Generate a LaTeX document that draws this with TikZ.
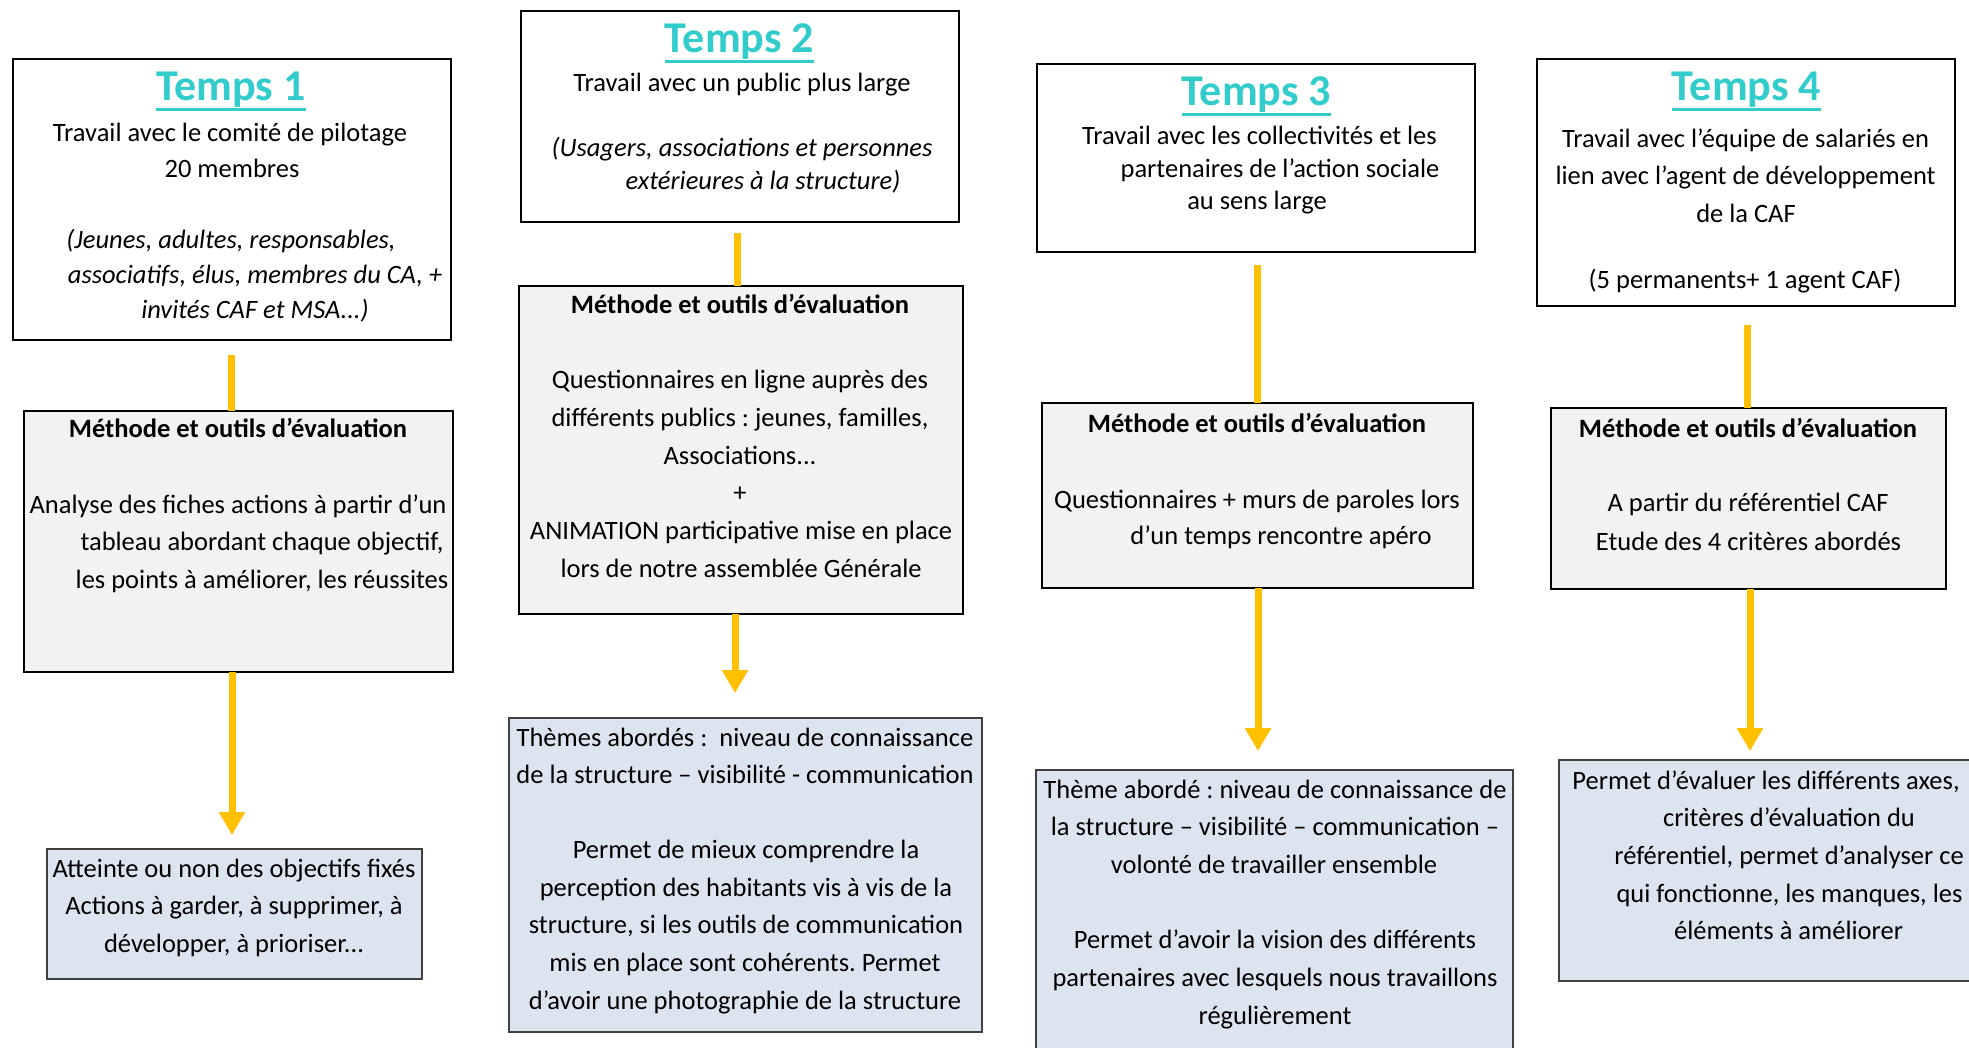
\documentclass[tikz,border=0pt]{standalone}
\usepackage{fontspec}
\setmainfont{Carlito}
\usetikzlibrary{arrows.meta}
\frenchspacing
\definecolor{teal1}{HTML}{33CCCC}
\definecolor{gold}{HTML}{FFC000}
\definecolor{mfill}{HTML}{F2F2F2}
\definecolor{rfill}{HTML}{DCE4F0}
\definecolor{rdraw}{HTML}{404040}
\newsavebox\tulbox
\newcommand\tul[1]{\sbox\tulbox{#1}\usebox\tulbox\llap{\raisebox{-0.235em}{\rule{\wd\tulbox}{0.07em}}}}
\newcommand\bx[6]{\node[#2,minimum width={(#5-#3)*0.5pt},minimum height={(#6-#4)*0.5pt}] (#1) at ({(#3+#5)/2},{(#4+#6)/2}) {};}
\begin{document}
\begin{tikzpicture}[x=0.5pt,y=-0.5pt,
  every node/.style={inner sep=0pt,outer sep=0pt},
  tbox/.style={draw=black,line width=1pt,fill=white},
  mbox/.style={draw=black,line width=1pt,fill=mfill},
  rbox/.style={draw=rdraw,line width=0.9pt,fill=rfill},
  txt/.style={anchor=mid,yshift=-2.5pt,font=\fontsize{13.25}{16}\selectfont},
  itx/.style={anchor=mid,yshift=-2.5pt,font=\fontsize{13.25}{16}\selectfont\itshape},
  btx/.style={anchor=mid,yshift=-2.5pt,font=\fontsize{13.25}{16}\selectfont\bfseries},
  ttl/.style={anchor=mid,yshift=-4pt,text=teal1,font=\fontsize{22}{25}\selectfont\bfseries},
  conn/.style={draw=gold,line width=3.5pt},
  arr/.style={conn,-{Triangle[width=12.5pt,length=11.5pt]}}]
\useasboundingbox (0,0) rectangle (1969,1048);
\clip (0,0) rectangle (1969,1048);
\fill[white] (0,0) rectangle (1969,1048);

% boxes
\bx{t1}{tbox}{13}{59}{451}{340}
\bx{m1}{mbox}{24}{411}{453}{672}
\bx{r1}{rbox}{47}{849}{422}{979}
\bx{t2}{tbox}{521}{11}{959}{222}
\bx{m2}{mbox}{519}{286}{963}{614}
\bx{r2}{rbox}{509}{718}{982}{1032}
\bx{t3}{tbox}{1037}{64}{1475}{252}
\bx{m3}{mbox}{1042}{403}{1473}{588}
\bx{r3}{rbox}{1036}{770}{1513}{1070}
\bx{t4}{tbox}{1537}{59}{1955}{306}
\bx{m4}{mbox}{1551}{408}{1946}{589}
\bx{r4}{rbox}{1559}{760}{1985}{981}

% connector x positions
\coordinate (k1) at (231,0);
\coordinate (k2) at (737,0);
\coordinate (k3) at (1257,0);
\coordinate (k4) at (1747,0);
\coordinate (a1) at (232,0);
\coordinate (a2) at (735,0);
\coordinate (a3) at (1258,0);
\coordinate (a4) at (1750,0);

\draw[conn,shorten <=7.5pt] (t1.south -| k1) -- (m1.north -| k1);
\draw[conn,shorten <=5.5pt] (t2.south -| k2) -- (m2.north -| k2);
\draw[conn,shorten <=6.5pt] (t3.south -| k3) -- (m3.north -| k3);
\draw[conn,shorten <=9.5pt] (t4.south -| k4) -- (m4.north -| k4);
\draw[arr,shorten >=7pt] (m1.south -| a1) -- (r1.north -| a1);
\draw[arr,shorten >=12.5pt] (m2.south -| a2) -- (r2.north -| a2);
\draw[arr,shorten >=9.5pt] (m3.south -| a3) -- (r3.north -| a3);
\draw[arr,shorten >=4.5pt] (m4.south -| a4) -- (r4.north -| a4);

% column 1
\node[ttl] (t1h) at (231,88) {\tul{Temps 1}};
\node[txt] (t1a) at (230,132) {Travail avec le comité de pilotage};
\node[txt] (t1b) at (232,168) {20 membres};
\node[itx] (t1c) at (231,239) {(Jeunes, adultes, responsables,};
\node[itx] (t1d) at (255,274) {associatifs, élus, membres du CA, +};
\node[itx] (t1e) at (255,309) {invités CAF et MSA...)};
\node[btx] (m1h) at (238,428) {Méthode et outils d’évaluation};
\node[txt] (m1a) at (238,504) {Analyse des fiches actions à partir d’un};
\node[txt] (m1b) at (262,541) {tableau abordant chaque objectif,};
\node[txt] (m1c) at (262,579) {les points à améliorer, les réussites};
\node[txt] (r1a) at (234,868) {Atteinte ou non des objectifs fixés};
\node[txt] (r1b) at (234,905) {Actions à garder, à supprimer, à};
\node[txt] (r1c) at (234,943) {développer, à prioriser...};

% column 2
\node[ttl] (t2h) at (739.5,40) {\tul{Temps 2}};
\node[txt] (t2a) at (742,82) {Travail avec un public plus large};
\node[itx] (t2b) at (742,147) {(Usagers, associations et personnes};
\node[itx] (t2c) at (763,180) {extérieures à la structure)};
\node[btx] (m2h) at (740,304) {Méthode et outils d’évaluation};
\node[txt] (m2a) at (740,379) {Questionnaires en ligne auprès des};
\node[txt] (m2b) at (740,417) {différents publics : jeunes, familles,};
\node[txt] (m2c) at (740,455) {Associations...};
\node[txt] (m2d) at (740,492) {+};
\node[txt] (m2e) at (741,530) {ANIMATION participative mise en place};
\node[txt] (m2f) at (741,568) {lors de notre assemblée Générale};
\node[txt] (r2a) at (745,737) {Thèmes abordés :~ niveau de connaissance};
\node[txt] (r2b) at (745,774) {de la structure – visibilité - communication};
\node[txt] (r2c) at (746,849) {Permet de mieux comprendre la};
\node[txt] (r2d) at (746,887) {perception des habitants vis à vis de la};
\node[txt] (r2e) at (746,924) {structure, si les outils de communication};
\node[txt] (r2f) at (745,962) {mis en place sont cohérents. Permet};
\node[txt] (r2g) at (745,1000) {d’avoir une photographie de la structure};

% column 3
\node[ttl] (t3h) at (1256.5,93) {\tul{Temps 3}};
\node[txt] (t3a) at (1259.5,135) {Travail avec les collectivités et les};
\node[txt] (t3b) at (1280,168) {partenaires de l’action sociale};
\node[txt] (t3c) at (1257,200) {au sens large};
\node[btx] (m3h) at (1257,423) {Méthode et outils d’évaluation};
\node[txt] (m3a) at (1257,499) {Questionnaires + murs de paroles lors};
\node[txt] (m3b) at (1281,535) {d’un temps rencontre apéro};
\node[txt] (r3a) at (1275,789) {Thème abordé : niveau de connaissance de};
\node[txt] (r3b) at (1275,826) {la structure – visibilité – communication –};
\node[txt] (r3c) at (1274,864) {volonté de travailler ensemble};
\node[txt] (r3d) at (1275,939) {Permet d’avoir la vision des différents};
\node[txt] (r3e) at (1275,977) {partenaires avec lesquels nous travaillons};
\node[txt] (r3f) at (1275,1015) {régulièrement};

% column 4
\node[ttl] (t4h) at (1746.5,88) {\tul{Temps 4}};
\node[txt] (t4a) at (1745.5,138) {Travail avec l’équipe de salariés en};
\node[txt] (t4b) at (1745.5,175) {lien avec l’agent de développement};
\node[txt] (t4c) at (1746,213) {de la CAF};
\node[txt] (t4d) at (1745,279) {(5 permanents+ 1 agent CAF)};
\node[btx] (m4h) at (1748,428) {Méthode et outils d’évaluation};
\node[txt] (m4a) at (1748,502) {A partir du référentiel CAF};
\node[txt] (m4b) at (1748.5,541) {Etude des 4 critères abordés};
\node[txt] (r4a) at (1766,780) {Permet d’évaluer les différents axes,};
\node[txt] (r4b) at (1789,817) {critères d’évaluation du};
\node[txt] (r4c) at (1789,855) {référentiel, permet d’analyser ce};
\node[txt] (r4d) at (1789.5,893) {qui fonctionne, les manques, les};
\node[txt] (r4e) at (1788.5,930) {éléments à améliorer};
\end{tikzpicture}
\end{document}
